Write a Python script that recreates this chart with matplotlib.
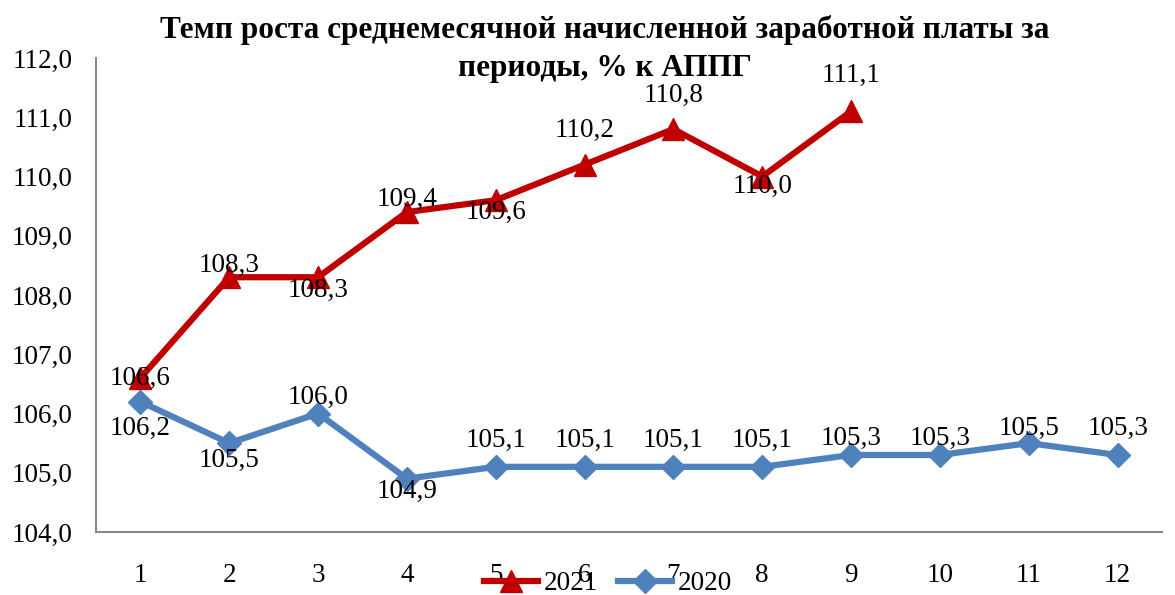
import matplotlib.pyplot as plt
from matplotlib.ticker import FuncFormatter

months = list(range(1, 13))
y2021 = [106.6, 108.3, 108.3, 109.4, 109.6, 110.2, 110.8, 110.0, 111.1]
y2020 = [106.2, 105.5, 106.0, 104.9, 105.1, 105.1, 105.1, 105.1, 105.3, 105.3, 105.5, 105.3]

# label offsets (pixels)
off2021 = [0, 12, -13, 13, -12, 34, 34, -10, 36]
off2020 = [-27, -17, 16, -13, 26, 26, 26, 26, 17, 17, 15, 27]

plt.rcParams['font.family'] = ['Liberation Serif', 'DejaVu Serif']

fig = plt.figure(figsize=(11.75, 5.95), dpi=100)
ax = fig.add_axes([96 / 1175, 1 - 532 / 595, (1162 - 96) / 1175, (532 - 58) / 595])

red = '#C00000'
blue = '#4F81BD'
ax.plot(months[:len(y2021)], y2021, color=red, lw=4.5, marker='^', ms=16, label='2021', zorder=3)
ax.plot(months, y2020, color=blue, lw=4.5, marker='D', ms=12, label='2020', zorder=3)

fmt = lambda v: f'{v:.1f}'.replace('.', ',')
for x, y, o in zip(months, y2021, off2021):
    ax.annotate(fmt(y), (x, y), xytext=(0, o), textcoords='offset pixels',
                ha='center', va='center', fontsize=19.5, zorder=4)
for x, y, o in zip(months, y2020, off2020):
    ax.annotate(fmt(y), (x, y), xytext=(0, o), textcoords='offset pixels',
                ha='center', va='center', fontsize=19.5, zorder=4)

ax.set_xlim(0.5, 12.5)
ax.set_ylim(104, 112)
ax.set_xticks(months)
ax.set_yticks(range(104, 113))
ax.yaxis.set_major_formatter(FuncFormatter(lambda v, p: fmt(v)))
ax.tick_params(length=0, labelsize=19.5)
ax.tick_params(axis='y', pad=17)
ax.tick_params(axis='x', pad=22)
for s in ['top', 'right']:
    ax.spines[s].set_visible(False)
for s in ['left', 'bottom']:
    ax.spines[s].set_color('#888888')
    ax.spines[s].set_linewidth(1.5)

fig.text(0.515, 0.975, 'Темп роста среднемесячной начисленной заработной платы за\nпериоды, % к АППГ',
         ha='center', va='top', fontsize=22.5, fontweight='bold', linespacing=1.4)

fig.legend(loc='center', bbox_to_anchor=(608 / 1175, 1 - 584 / 595), ncol=2, frameon=False,
           fontsize=19.5, handlelength=2.0, columnspacing=0.75, handletextpad=0.2)

fig.savefig('out.png', dpi=100)
